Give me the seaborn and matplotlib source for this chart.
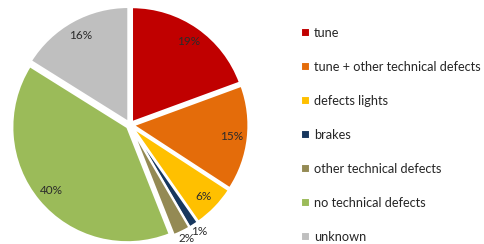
import numpy as np
import matplotlib
matplotlib.use("Agg")
import matplotlib.pyplot as plt
import seaborn as sns

categories = ["tune", "tune + other technical defects", "defects lights", "brakes",
              "other technical defects", "no technical defects", "unknown"]
shares = [19.4, 14.8, 6.1, 1.3, 2.4, 39.9, 16.1]
colors = ["#C00000", "#E46C0A", "#FFC000", "#17375E", "#948A54", "#9BBB59", "#BFBFBF"]

sns.set_theme(style="white")
plt.rcParams["font.family"] = ["Lato", "DejaVu Sans"]

W, H = 485, 244
fig = plt.figure(figsize=(W / 100, H / 100), dpi=100)

# pie axes placed in pixels: centre (130, 119 from bottom), radius ~115 px
r_px = 115
cx, cy = 130, 119
side = 2.5 * r_px
ax = fig.add_axes([(cx - side / 2) / W, (cy - side / 2) / H, side / W, side / H])

wedges, texts, autotexts = ax.pie(
    shares, colors=colors, startangle=90, counterclock=False,
    explode=[0.03] * len(shares), autopct="%.0f%%", pctdistance=0.86,
    wedgeprops=dict(edgecolor="white", linewidth=1.5),
    textprops=dict(fontsize=8.5, color="#2b2b2b"))
ax.set_xlim(-1.25, 1.25)
ax.set_ylim(-1.25, 1.25)

# small slices: move label just outside the pie
for w, t, v in zip(wedges, autotexts, shares):
    if v < 3:
        ang = np.deg2rad((w.theta1 + w.theta2) / 2)
        t.set_position((1.12 * np.cos(ang), 1.1 * np.sin(ang)))

fig.legend(wedges, categories, loc="upper left", bbox_to_anchor=(301 / W, 1 - 27 / H),
           frameon=False, fontsize=9.2, handlelength=0.7, handleheight=0.7,
           handletextpad=0.3, labelspacing=1.72, borderaxespad=0, borderpad=0)

fig.savefig("out.png", dpi=100)
